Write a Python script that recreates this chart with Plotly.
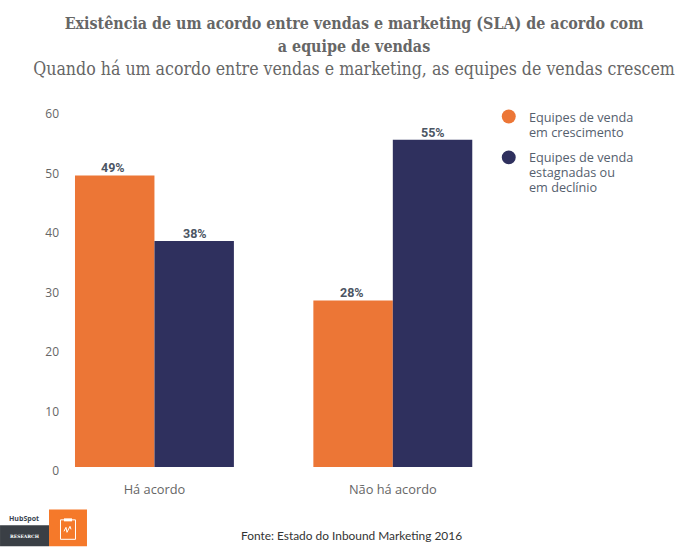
import plotly.graph_objects as go

categories = ["Há acordo", "Não há acordo"]
series_lines = [["Equipes de venda", "em crescimento"], ["Equipes de venda", "estagnadas ou", "em declínio"]]
growing = [49, 28]
stagnant = [38, 55]
y_ticks = [0, 10, 20, 30, 40, 50, 60]
title_lines = ["Existência de um acordo entre vendas e marketing (SLA) de acordo com", "a equipe de vendas"]
subtitle = "Quando há um acordo entre vendas e marketing, as equipes de vendas crescem"
source = "Fonte: Estado do Inbound Marketing 2016"

ORANGE = "#EC7636"
NAVY = "#2F305E"
W, H = 700, 547
L, R, T, B = 60, 512.25, 109.5, 467.5
BAR_W = 79.5


def px(x):
    return (x - L) / (R - L)


def py(y):
    return (B - y) / (B - T)


fig = go.Figure()
for idx, (name, vals, col) in enumerate([("Equipes de venda em crescimento", growing, ORANGE),
                                         ("Equipes de venda estagnadas ou em declínio", stagnant, NAVY)]):
    fig.add_trace(go.Bar(x=categories, y=vals, name=name, marker=dict(color=col, line_width=0),
                         showlegend=False, hoverinfo="skip"))

annotations = []
for vals, sign, nudge in [(growing, -1, -1.5), (stagnant, 1, 0.5)]:
    for cat, v in zip(categories, vals):
        annotations.append(dict(
            text=f"<b>{v}%</b>", x=cat, y=v, xref="x", yref="y", showarrow=False,
            xshift=sign * BAR_W / 2 + nudge, yshift=7.5, xanchor="center", yanchor="middle",
            font=dict(family="Roboto", size=12.5, color="#4B5563"),
        ))

legend_tops = [117, 157]
for col, lines, y0 in zip([ORANGE, NAVY], series_lines, legend_tops):
    for i, line in enumerate(lines):
        annotations.append(dict(
            text=line, x=px(527.5), y=py(y0 + 15 * i), xref="paper", yref="paper", showarrow=False,
            xanchor="left", yanchor="middle",
            font=dict(family="Open Sans", size=12.7, color="#55606E"),
        ))

annotations += [
    dict(text=source, x=px(351.5), y=py(536), xref="paper", yref="paper", showarrow=False,
         xanchor="center", yanchor="middle", font=dict(family="Lato", size=11.9, color="#333333")),
    dict(text="<b>HubSpot</b>", x=px(24), y=py(519), xref="paper", yref="paper", showarrow=False,
         xanchor="center", yanchor="middle", font=dict(family="Open Sans", size=7, color="#3A4550")),
    dict(text="<b>RESEARCH</b>", x=px(25), y=py(537), xref="paper", yref="paper", showarrow=False,
         xanchor="center", yanchor="middle", font=dict(family="DejaVu Serif", size=4.5, color="white")),
]

shapes = [
    dict(type="rect", xref="paper", yref="paper", x0=px(0), x1=px(49), y0=py(526), y1=py(547),
         fillcolor="#3A3F45", line_width=0),
    dict(type="rect", xref="paper", yref="paper", x0=px(49), x1=px(87), y0=py(510), y1=py(547),
         fillcolor="#F5792A", line_width=0),
    dict(type="rect", xref="paper", yref="paper", x0=px(60.5), x1=px(75.5), y0=py(520.5), y1=py(540),
         line=dict(color="white", width=1)),
    dict(type="rect", xref="paper", yref="paper", x0=px(64), x1=px(72), y0=py(519), y1=py(522),
         fillcolor="white", line_width=0),
    dict(type="path", xref="paper", yref="paper",
         path=f"M {px(64)} {py(532)} L {px(66)} {py(528)} L {px(67)} {py(533)} L {px(70)} {py(527)} L {px(71)} {py(530)}",
         line=dict(color="white", width=1)),
]
for col, cy in zip([ORANGE, NAVY], [116, 157]):
    shapes.append(dict(type="circle", xref="paper", yref="paper",
                       x0=px(502), x1=px(516), y0=py(cy + 7), y1=py(cy - 7),
                       fillcolor=col, line_width=0))

bold_span = '<span style="font-size:15.9px"><b>{}</b></span>'
fig.update_layout(
    width=W, height=H, autosize=False,
    paper_bgcolor="white", plot_bgcolor="white",
    barmode="group", bargap=1 / 3, bargroupgap=0,
    margin=dict(l=L, r=W - R, t=T, b=H - B, pad=0),
    font=dict(family="Open Sans", color="#666666"),
    showlegend=False,
    title=dict(
        text=bold_span.format(title_lines[0]) + "<br>" + bold_span.format(title_lines[1]) + "<br>" + subtitle,
        x=354 / W, xanchor="center", y=1 - 29 / H, yanchor="top",
        font=dict(family="DejaVu Serif Condensed", size=17.6, color="#666666"),
    ),
    xaxis=dict(range=[(L - 154.5) / 238.5, 1.5], showgrid=False, zeroline=False, showline=False,
               ticks="", ticklabelstandoff=13, tickfont=dict(family="Open Sans", size=12.8, color="#666666")),
    yaxis=dict(range=[0, 60], tickvals=y_ticks, showgrid=False, zeroline=False, showline=False,
               ticks="", ticklabelshift=4, tickfont=dict(family="Open Sans", size=12, color="#666666")),
    annotations=annotations,
    shapes=shapes,
)

fig.write_html("out.html", config={"displayModeBar": False},
               post_script="document.body.style.margin='0';document.body.style.overflow='hidden';")
